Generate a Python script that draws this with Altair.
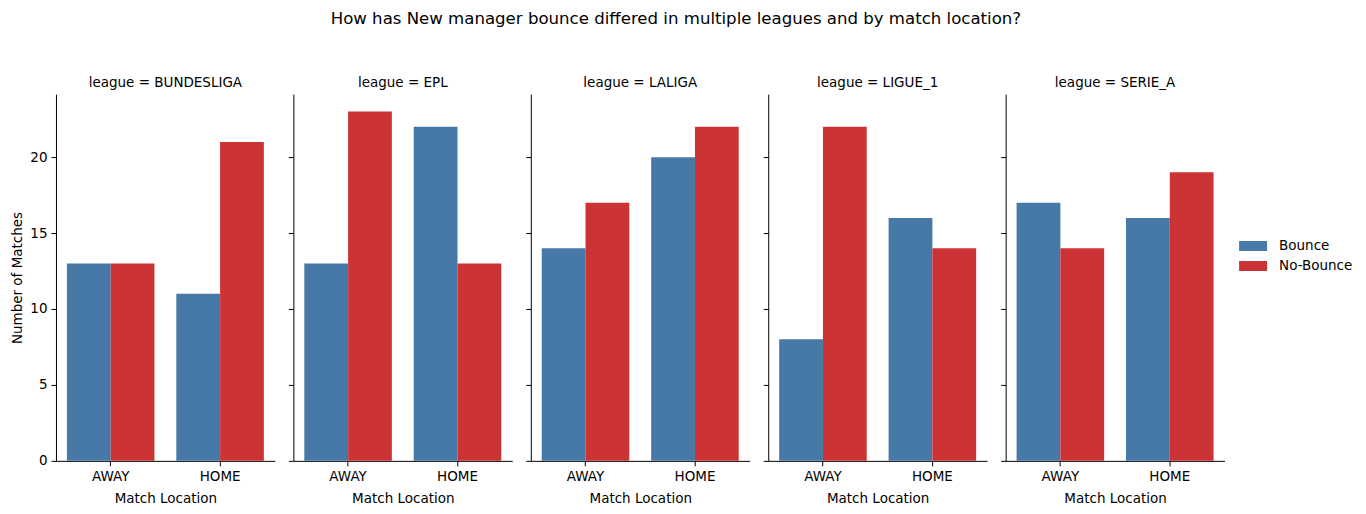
import altair as alt
import pandas as pd

leagues = ["BUNDESLIGA", "EPL", "LALIGA", "LIGUE_1", "SERIE_A"]
locations = ["AWAY", "HOME"]
outcomes = ["Bounce", "No-Bounce"]
# counts per league: [AWAY Bounce, AWAY No-Bounce, HOME Bounce, HOME No-Bounce]
bundesliga = [13, 13, 11, 21]
epl = [13, 23, 22, 13]
laliga = [14, 17, 20, 22]
ligue_1 = [8, 22, 16, 14]
serie_a = [17, 14, 16, 19]
colors = ["#4679a8", "#cb3335"]

series = [bundesliga, epl, laliga, ligue_1, serie_a]
rows = []
for lg, vals in zip(leagues, series):
    i = 0
    for loc in locations:
        for oc in outcomes:
            rows.append({"league": lg, "location": loc, "outcome": oc, "count": vals[i]})
            i += 1
df = pd.DataFrame(rows)

FONT = "DejaVu Sans"
panels = []
for k, lg in enumerate(leagues):
    first = k == 0
    yaxis = alt.Axis(
        title="Number of Matches" if first else None,
        values=[0, 5, 10, 15, 20],
        labels=first,
        tickSize=5,
    )
    c = (
        alt.Chart(df[df.league == lg])
        .mark_bar()
        .encode(
            x=alt.X(
                "location:N",
                sort=locations,
                title="Match Location",
                scale=alt.Scale(paddingInner=0.2, paddingOuter=0.1),
                axis=alt.Axis(labelAngle=0, tickSize=5),
            ),
            xOffset=alt.XOffset(
                "outcome:N", sort=outcomes,
                scale=alt.Scale(paddingInner=0, paddingOuter=0),
            ),
            y=alt.Y("count:Q", scale=alt.Scale(domain=[0, 24.15], nice=False, zero=True), axis=yaxis),
            color=alt.Color(
                "outcome:N",
                sort=outcomes,
                scale=alt.Scale(domain=outcomes, range=colors),
                legend=alt.Legend(
                    title=None,
                    orient="none",
                    legendX=1188,
                    legendY=142,
                    symbolType="M-1.4,-0.5h2.8v1h-2.8z",
                    symbolSize=400,
                    symbolStrokeWidth=0,
                    labelFontSize=13.5,
                    labelFont=FONT,
                    labelColor="black",
                    rowPadding=3,
                    labelOffset=16,
                ),
            ),
        )
        .properties(
            width=219,
            height=367,
            title=alt.TitleParams(f"league = {lg}", fontSize=13.5, fontWeight="normal", font=FONT, offset=5, color="black"),
        )
    )
    panels.append(c)

chart = (
    alt.hconcat(*panels, spacing=12.6)
    .properties(
        padding={"left": 2, "top": 2, "right": 5, "bottom": 5},
        title=alt.TitleParams(
            "How has New manager bounce differed in multiple leagues and by match location?",
            fontSize=16.6, fontWeight="normal", font=FONT, anchor="middle", offset=48,
            dx=-6, color="black",
        ),
    )
    .configure_view(stroke=None)
    .configure_axis(
        grid=False,
        domainColor="black",
        tickColor="black",
        labelColor="black",
        titleColor="black",
        labelFont=FONT,
        titleFont=FONT,
        labelFontSize=13.5,
        titleFontSize=13.5,
        titleFontWeight="normal",
        labelPadding=4,
    )
    .configure_axisX(titlePadding=8)
    .configure_axisY(titlePadding=5)
)

chart.save("out.html", embed_options={"renderer": "svg", "actions": False})
